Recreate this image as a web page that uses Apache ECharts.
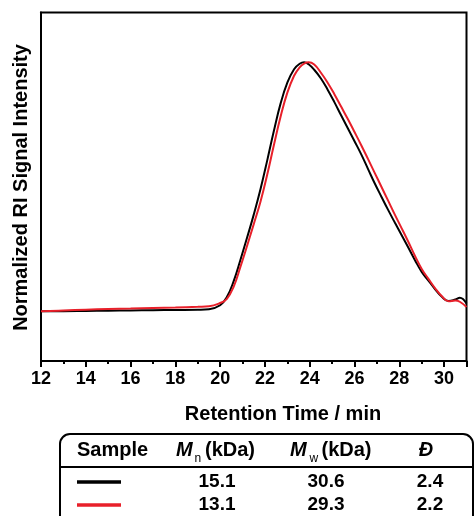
<!DOCTYPE html>
<html>
<head>
<meta charset="utf-8">
<script src="https://cdn.jsdelivr.net/npm/echarts@6/dist/echarts.min.js"></script>
<style>
html,body{margin:0;padding:0;background:#fff;}
#chart{width:474px;height:516px;}
</style>
</head>
<body>
<div id="chart"></div>
<script>
// Retention time (min)
const retentionTime = [12, 13, 14, 15, 16, 17, 18, 19, 19.5, 20, 20.3, 20.6, 20.9, 21.2, 21.5, 21.8, 22.1, 22.4, 22.7, 23.0, 23.3, 23.55, 23.75, 23.95, 24.2, 24.5, 24.8, 25.1, 25.4, 25.7, 26.0, 26.3, 26.6, 26.9, 27.2, 27.5, 27.8, 28.1, 28.4, 28.7, 29.0, 29.3, 29.6, 29.9, 30.2, 30.5, 30.7, 31.0];
// Normalized RI signal, black sample
const blackSignal = [0.000, 0.000, 0.001, 0.002, 0.003, 0.004, 0.005, 0.006, 0.008, 0.024, 0.057, 0.120, 0.205, 0.295, 0.388, 0.490, 0.605, 0.725, 0.835, 0.918, 0.972, 0.994, 1.000, 0.992, 0.970, 0.935, 0.890, 0.840, 0.787, 0.735, 0.683, 0.630, 0.572, 0.514, 0.460, 0.407, 0.356, 0.306, 0.256, 0.205, 0.158, 0.123, 0.088, 0.058, 0.041, 0.047, 0.054, 0.031];
// Normalized RI signal, red sample
const redSignal = [0.000, 0.003, 0.006, 0.009, 0.011, 0.013, 0.015, 0.018, 0.020, 0.033, 0.050, 0.098, 0.177, 0.262, 0.350, 0.440, 0.548, 0.668, 0.782, 0.878, 0.946, 0.980, 0.995, 1.000, 0.991, 0.958, 0.918, 0.872, 0.822, 0.772, 0.720, 0.667, 0.612, 0.556, 0.500, 0.444, 0.388, 0.334, 0.279, 0.222, 0.170, 0.130, 0.092, 0.060, 0.040, 0.043, 0.038, 0.017];
// Table
const tableHeaders = ['Sample', 'M', 'n', '(kDa)', 'M', 'w', '(kDa)', 'Đ'];
const mnValues = ['15.1', '13.1'];
const mwValues = ['30.6', '29.3'];
const dispersity = ['2.4', '2.2'];
const seriesColors = ['#000000', '#e8202a'];

const FONT = '"Liberation Sans", Arial, Helvetica, sans-serif';

const chart = echarts.init(document.getElementById('chart'), null, {renderer: 'canvas'});

function txt(text, x, y, opts) {
  return {
    type: 'text', x: x, y: y, silent: true,
    style: Object.assign({
      text: text, fill: '#000', font: 'bold 20px ' + FONT,
      align: 'center', verticalAlign: 'middle'
    }, opts || {})
  };
}

const graphics = [];
// axis titles
graphics.push(Object.assign(txt('Normalized RI Signal Intensity', 21, 187.5), {rotation: Math.PI / 2}));
graphics.push(txt('Retention Time / min', 283, 414));
// table box
graphics.push({type: 'rect', silent: true, shape: {x: 60, y: 434, width: 413, height: 110, r: 10},
  style: {fill: 'none', stroke: '#000', lineWidth: 2}});
graphics.push({type: 'line', silent: true, shape: {x1: 60, y1: 467, x2: 473, y2: 467},
  style: {stroke: '#000', lineWidth: 2}});
// header
graphics.push(txt(tableHeaders[0], 112.5, 450.5));
graphics.push(txt(tableHeaders[1], 176, 450.5, {align: 'left', font: 'italic bold 20px ' + FONT}));
graphics.push(txt(tableHeaders[2], 194.5, 459, {align: 'left', font: '12px ' + FONT}));
graphics.push(txt(tableHeaders[3], 205, 450.5, {align: 'left'}));
graphics.push(txt(tableHeaders[4], 290, 450.5, {align: 'left', font: 'italic bold 20px ' + FONT}));
graphics.push(txt(tableHeaders[5], 309.5, 459, {align: 'left', font: '12px ' + FONT}));
graphics.push(txt(tableHeaders[6], 321.5, 450.5, {align: 'left'}));
graphics.push(txt(tableHeaders[7], 426, 450.5, {font: 'italic bold 20px ' + FONT}));
// rows
const rowY = [482, 505];
for (let i = 0; i < 2; i++) {
  graphics.push({type: 'line', silent: true, shape: {x1: 77, y1: rowY[i], x2: 121, y2: rowY[i]},
    style: {stroke: seriesColors[i], lineWidth: 3.5}});
  graphics.push(txt(mnValues[i], 217, rowY[i], {font: 'bold 19px ' + FONT}));
  graphics.push(txt(mwValues[i], 326, rowY[i], {font: 'bold 19px ' + FONT}));
  graphics.push(txt(dispersity[i], 430, rowY[i], {font: 'bold 19px ' + FONT}));
}

const option = {
  animation: false,
  backgroundColor: '#fff',
  grid: {left: 41, right: 7.5, top: 12.5, bottom: 155, show: true, borderColor: '#000', borderWidth: 2, containLabel: false},
  xAxis: {
    type: 'value', min: 12, max: 31, interval: 2,
    axisLine: {show: true, onZero: false, lineStyle: {color: '#000', width: 2}},
    axisTick: {show: true, inside: false, length: 6, lineStyle: {color: '#000', width: 2}},
    minorTick: {show: true, splitNumber: 2, length: 3, lineStyle: {color: '#000', width: 2}},
    axisLabel: {show: true, color: '#000', fontFamily: FONT, fontWeight: 'bold', fontSize: 18, margin: 9, showMaxLabel: false},
    splitLine: {show: false}
  },
  yAxis: {
    type: 'value', min: -0.2, max: 1.2,
    axisLine: {show: true, lineStyle: {color: '#000', width: 2}},
    axisTick: {show: false}, axisLabel: {show: false}, splitLine: {show: false}
  },
  series: [
    {type: 'line', data: retentionTime.map((t, i) => [t, blackSignal[i]]), showSymbol: false, smooth: 0.45,
      lineStyle: {color: seriesColors[0], width: 2}, z: 2},
    {type: 'line', data: retentionTime.map((t, i) => [t, redSignal[i]]), showSymbol: false, smooth: 0.45,
      lineStyle: {color: seriesColors[1], width: 2}, z: 3}
  ],
  graphic: graphics
};
chart.setOption(option);
</script>
</body>
</html>
